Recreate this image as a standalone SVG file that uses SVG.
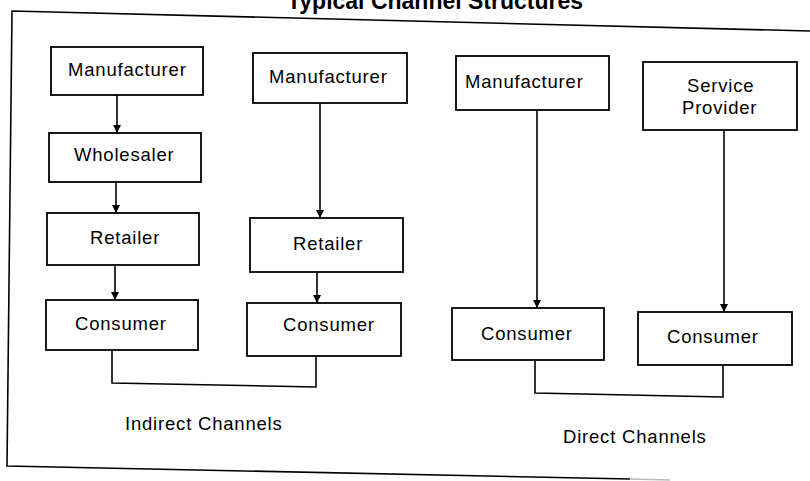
<svg xmlns="http://www.w3.org/2000/svg" width="810" height="481" viewBox="0 0 810 481">
<defs>
<style>
.box{fill:#fff;stroke:#000;stroke-width:1.8}
.t{font-family:"Liberation Sans",Arial,sans-serif;font-size:18.5px;letter-spacing:0.8px;fill:#000}
.title{font-family:"Liberation Sans",Arial,sans-serif;font-size:23px;font-weight:bold;fill:#000}
.ln{fill:none;stroke:#000;stroke-width:1.6}
</style>
<marker id="ah" viewBox="0 0 10 10" refX="10" refY="5" markerWidth="8" markerHeight="8" markerUnits="userSpaceOnUse" orient="auto">
<path d="M0,0 L10,5 L0,10 Z" fill="#000"/>
</marker>
</defs>
<rect width="810" height="481" fill="#fff"/>
<text class="title" x="435" y="9" text-anchor="middle">Typical Channel Structures</text>
<polyline class="ln" points="810,31 12,11 7,466 630,479"/>
<line x1="630" y1="479" x2="670" y2="480" stroke="#bbb" stroke-width="1.5"/>
<g id="connectors">
<line class="ln" x1="117" y1="95" x2="117" y2="133" marker-end="url(#ah)"/>
<line class="ln" x1="116" y1="182" x2="116" y2="213" marker-end="url(#ah)"/>
<line class="ln" x1="115" y1="265" x2="115" y2="300" marker-end="url(#ah)"/>
<line class="ln" x1="320" y1="103" x2="320" y2="218" marker-end="url(#ah)"/>
<line class="ln" x1="317" y1="272" x2="317" y2="303" marker-end="url(#ah)"/>
<line class="ln" x1="537" y1="110" x2="537" y2="308" marker-end="url(#ah)"/>
<line class="ln" x1="724" y1="130" x2="724" y2="312" marker-end="url(#ah)"/>
<polyline class="ln" points="112,350 112,383 316,387 316,356"/>
<polyline class="ln" points="535,360 535,393 723,397 723,365"/>
</g>
<g id="manufacturer1"><rect class="box" x="51" y="47" width="152" height="48"/><text class="t" x="68" y="76">Manufacturer</text></g>
<g id="wholesaler"><rect class="box" x="49" y="133" width="152" height="49"/><text class="t" x="74" y="161">Wholesaler</text></g>
<g id="retailer1"><rect class="box" x="47" y="213" width="152" height="52"/><text class="t" x="90" y="244">Retailer</text></g>
<g id="consumer1"><rect class="box" x="46" y="300" width="152" height="50"/><text class="t" x="75" y="330">Consumer</text></g>
<g id="manufacturer2"><rect class="box" x="253" y="53" width="154" height="50"/><text class="t" x="269" y="83">Manufacturer</text></g>
<g id="retailer2"><rect class="box" x="250" y="218" width="153" height="54"/><text class="t" x="293" y="250">Retailer</text></g>
<g id="consumer2"><rect class="box" x="247" y="303" width="154" height="53"/><text class="t" x="283" y="331">Consumer</text></g>
<g id="manufacturer3"><rect class="box" x="456" y="56" width="153" height="54"/><text class="t" x="465" y="88">Manufacturer</text></g>
<g id="serviceprovider"><rect class="box" x="643" y="62" width="154" height="68"/><text class="t" x="687" y="92">Service</text><text class="t" x="682" y="114">Provider</text></g>
<g id="consumer3"><rect class="box" x="452" y="308" width="152" height="52"/><text class="t" x="481" y="340">Consumer</text></g>
<g id="consumer4"><rect class="box" x="638" y="312" width="154" height="53"/><text class="t" x="667" y="343">Consumer</text></g>
<text class="t" x="125" y="430">Indirect Channels</text>
<text class="t" x="563" y="443">Direct Channels</text>
</svg>
